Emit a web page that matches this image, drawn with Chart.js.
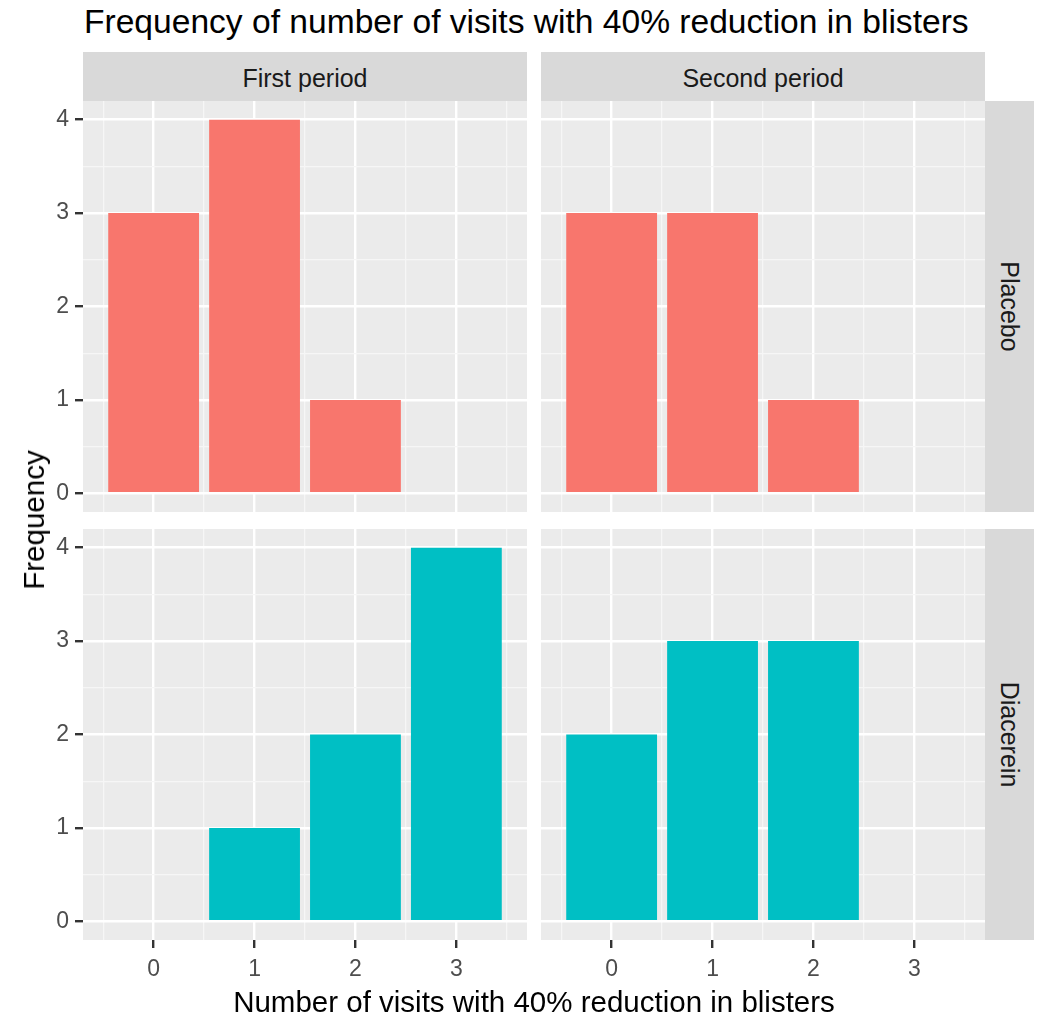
<!DOCTYPE html>
<html>
<head>
<meta charset="utf-8">
<script src="https://cdn.jsdelivr.net/npm/chart.js@4.4.1/dist/chart.umd.min.js"></script>
<style>
  body { margin: 0; background: #fff; font-family: "Liberation Sans", Arial, sans-serif; }
  #wrap { position: relative; width: 1043px; height: 1013px; overflow: hidden; }
  canvas { position: absolute; }
  .strip { position: absolute; background: #D9D9D9; color: #1A1A1A; font-size: 25px;
           display: flex; align-items: center; justify-content: center; }
  .vtext { transform: rotate(90deg); white-space: nowrap; }
  .lbl { position: absolute; white-space: nowrap; color: #000; }
</style>
</head>
<body>
<div id="wrap">
  <div class="lbl" id="title" style="left:84px; top:3px; font-size:33.6px;">Frequency of number of visits with 40% reduction in blisters</div>

  <div class="strip" style="left:83px; top:52px; width:444px; height:49px; padding-top:3px; box-sizing:border-box;">First period</div>
  <div class="strip" style="left:541px; top:52px; width:444px; height:49px; padding-top:3px; box-sizing:border-box;">Second period</div>
  <div class="strip" style="left:985px; top:101px; width:49px; height:411px;"><span class="vtext">Placebo</span></div>
  <div class="strip" style="left:985px; top:529px; width:49px; height:411px;"><span class="vtext">Diacerein</span></div>

  <canvas id="tl"></canvas>
  <canvas id="tr"></canvas>
  <canvas id="bl"></canvas>
  <canvas id="br"></canvas>

  <div class="lbl" style="left:34px; top:520px; font-size:29.5px; transform: translate(-50%,-50%) rotate(-90deg);">Frequency</div>
  <div class="lbl" style="left:534px; top:1002px; font-size:29.5px; transform: translate(-50%,-50%);">Number of visits with 40% reduction in blisters</div>
</div>

<script>
// counts per number of visits (0..3)
const xValues = [0, 1, 2, 3];
const placeboFirst = [3, 4, 1, null];
const placeboSecond = [3, 3, 1, null];
const diacereinFirst = [null, 1, 2, 4];
const diacereinSecond = [2, 3, 3, null];

// major ticks at integers, minor grid at the halves
const xTicks = [-0.5, 0, 0.5, 1, 1.5, 2, 2.5, 3, 3.5];
const yTicks = [0, 0.5, 1, 1.5, 2, 2.5, 3, 3.5, 4];

const placeboColor = '#F8766D';
const diacereinColor = '#00BFC4';

const PAD = 20;
const Y_AXIS_W = 60;
const X_AXIS_H = 50;

const panelBg = {
    id: 'panelBg',
    beforeDraw(chart) {
        const a = chart.chartArea;
        const c = chart.ctx;
        c.save();
        c.fillStyle = '#EBEBEB';
        c.fillRect(a.left, a.top, a.right - a.left, a.bottom - a.top);
        c.restore();
    }
};

function isMajor(ctx) {
    return ctx.tick && Number.isInteger(ctx.tick.value);
}

function axisOpts(min, max, ticks, show, isX) {
    return {
        type: 'linear',
        min: min,
        max: max,
        offset: false,
        afterBuildTicks: function(scale) {
            scale.ticks = ticks.map(v => ({value: v}));
        },
        afterFit: function(scale) {
            if (isX) scale.height = show ? X_AXIS_H : 0;
            else scale.width = show ? Y_AXIS_W : 0;
        },
        border: {display: false},
        grid: {
            color: ctx => isMajor(ctx) ? '#FFFFFF' : '#F6F6F6',
            lineWidth: ctx => isMajor(ctx) ? 2.4 : 1.3,
            tickColor: ctx => isMajor(ctx) ? '#333333' : 'rgba(0,0,0,0)',
            tickLength: 8,
            drawTicks: show,
            offset: false
        },
        ticks: {
            display: show,
            autoSkip: false,
            maxRotation: 0,
            padding: isX ? 8 : 6,
            color: '#4D4D4D',
            font: {family: '"Liberation Sans", Arial, sans-serif', size: 23},
            callback: v => Number.isInteger(v) ? String(v) : ''
        }
    };
}

function makePanel(id, values, color, rect, showY, showX) {
    const cv = document.getElementById(id);
    const wy = showY ? Y_AXIS_W : 0;
    const hx = showX ? X_AXIS_H : 0;
    const w = (rect.r - rect.l) + wy + 2 * PAD;
    const h = (rect.b - rect.t) + hx + 2 * PAD;
    cv.width = w;
    cv.height = h;
    cv.style.left = (rect.l - wy - PAD) + 'px';
    cv.style.top = (rect.t - PAD) + 'px';
    cv.style.width = w + 'px';
    cv.style.height = h + 'px';

    new Chart(cv.getContext('2d'), {
        type: 'bar',
        data: {
            datasets: [{
                data: xValues.map((x, i) => ({x: x, y: values[i]})),
                backgroundColor: color,
                borderWidth: 0,
                // sample spacing is 0.5 (half-unit ticks), so 1.8 gives 0.9 unit bars
                barPercentage: 1.8,
                categoryPercentage: 1.0
            }]
        },
        options: {
            responsive: false,
            animation: false,
            layout: {padding: PAD},
            plugins: {legend: {display: false}, tooltip: {enabled: false}},
            scales: {
                x: axisOpts(-0.7, 3.7, xTicks, showX, true),
                y: axisOpts(-0.2, 4.2, yTicks, showY, false)
            }
        },
        plugins: [panelBg]
    });
}

makePanel('tl', placeboFirst, placeboColor, {l: 83, t: 101, r: 527, b: 512}, true, false);
makePanel('tr', placeboSecond, placeboColor, {l: 541, t: 101, r: 985, b: 512}, false, false);
makePanel('bl', diacereinFirst, diacereinColor, {l: 83, t: 529, r: 527, b: 940}, true, true);
makePanel('br', diacereinSecond, diacereinColor, {l: 541, t: 529, r: 985, b: 940}, false, true);
</script>
</body>
</html>
